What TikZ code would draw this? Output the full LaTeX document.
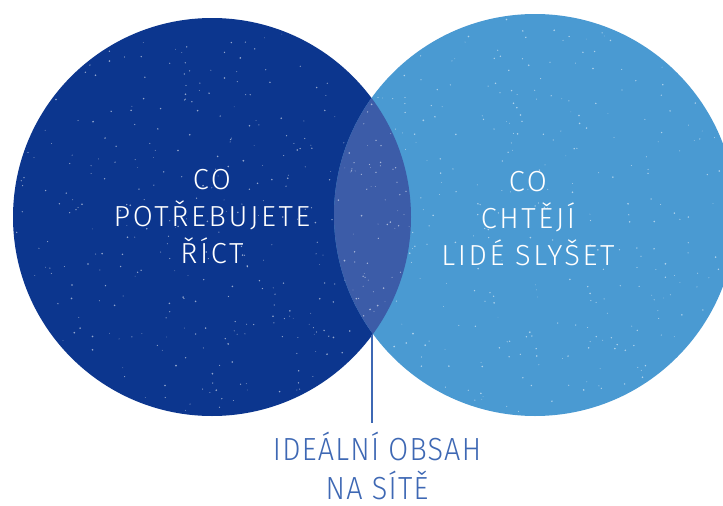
\documentclass[tikz,border=0pt]{standalone}
\usepackage{fontspec}
\usetikzlibrary{calc}
\newfontfamily\hand{Fira Sans Light}[LetterSpace=9]
\newfontfamily\handnarrow{Fira Sans Light}[FakeStretch=0.9,LetterSpace=4]
\definecolor{darkblue}{RGB}{12,54,142}
\definecolor{lightblue}{RGB}{74,154,210}
\definecolor{lensblue}{RGB}{60,92,168}
\definecolor{labelblue}{RGB}{62,104,180}
\tikzset{
  x=1pt, y=-1pt,
  circtext/.style={align=center, text=white, inner sep=0pt, anchor=base,
    font=\hand\fontsize{29}{37}\selectfont},
  labeltext/.style={align=center, text=labelblue, inner sep=0pt, anchor=base,
    text depth=0pt, font=\handnarrow\fontsize{32}{39}\selectfont},
  speck/.style={fill=white, opacity=0.55}
}
\begin{document}
\begin{tikzpicture}
\useasboundingbox (0,0) rectangle (723,506);
\fill[white] (0,0) rectangle (723,506);
\begin{scope}
  \clip (0,0) rectangle (723,506);
  \fill[darkblue] (212,217) circle (199);
  \fill[lightblue] (535,215) circle (201);
  \begin{scope}
    \clip (212,217) circle (199);
    \fill[lensblue] (535,215) circle (201);
  \end{scope}
  \pgfmathsetseed{7}
  \foreach \i in {1,...,320}{
    \pgfmathsetmacro\ang{360*rnd}
    \pgfmathsetmacro\rad{196*sqrt(rnd)}
    \pgfmathsetmacro\sz{0.35+0.6*rnd}
    \fill[speck] ($(212,217)+(\ang:\rad)$) circle (\sz);
  }
  \foreach \i in {1,...,320}{
    \pgfmathsetmacro\ang{360*rnd}
    \pgfmathsetmacro\rad{198*sqrt(rnd)}
    \pgfmathsetmacro\sz{0.35+0.6*rnd}
    \fill[speck] ($(535,215)+(\ang:\rad)$) circle (\sz);
  }
\end{scope}
\coordinate (lensbot) at (372,335);
\coordinate (lineend) at (372,423);
\draw[labelblue, line width=1.2pt] (lensbot) -- (lineend);
\node[circtext] (need) at (212,263) {CO\\POTŘEBUJETE\\ŘÍCT};
\node[circtext] (want) at (528,265) {CO\\CHTĚJÍ\\LIDÉ SLYŠET};
\node[labeltext] (ideal) at (377,499) {IDEÁLNÍ OBSAH\\NA SÍTĚ};
\end{tikzpicture}
\end{document}
